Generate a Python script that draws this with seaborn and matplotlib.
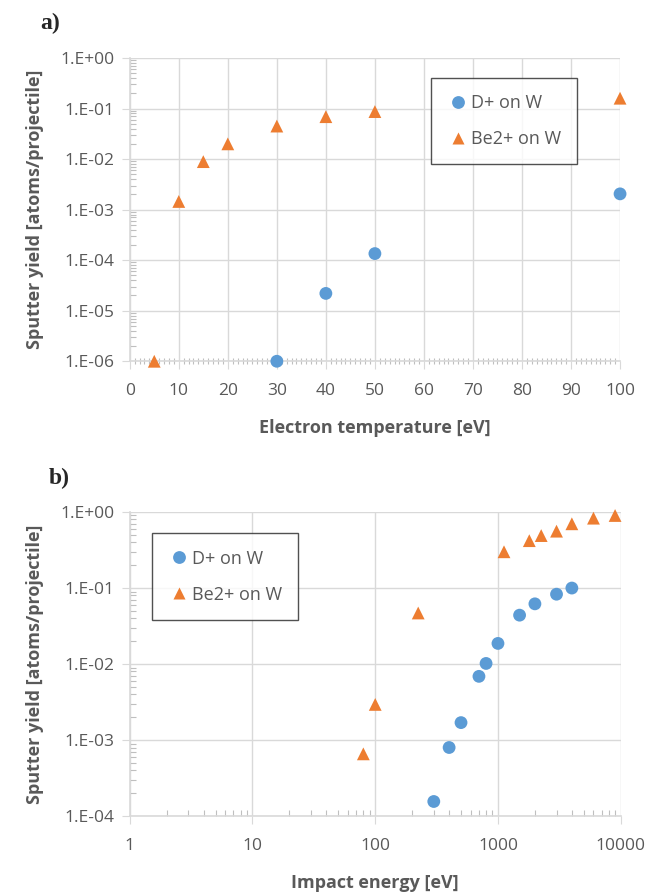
import numpy as np
import pandas as pd
import matplotlib
matplotlib.use("Agg")
import matplotlib.pyplot as plt
from matplotlib.ticker import FuncFormatter, LogLocator, MultipleLocator
import seaborn as sb

# Colours (Excel-like)
blue = '#5B9BD5'
orange = '#ED7D31'
grey_text = '#595959'
grid_colour = '#D9D9D9'
minor_colour = '#BFBFBF'

series = ['D+ on W', 'Be2+ on W']

# Panel a) yield vs electron temperature
te_d = [30, 40, 50, 100]
y_te_d = [1.0e-6, 2.2e-5, 1.35e-4, 2.05e-3]
te_be = [5, 10, 15, 20, 30, 40, 50, 100]
y_te_be = [1.0e-6, 1.45e-3, 8.9e-3, 2.0e-2, 4.5e-2, 6.9e-2, 8.7e-2, 1.6e-1]

# Panel b) yield vs impact energy
e_d = [300, 400, 500, 700, 800, 1000, 1500, 2000, 3000, 4000]
y_e_d = [1.56e-4, 8.0e-4, 1.7e-3, 6.9e-3, 1.02e-2, 1.87e-2, 4.4e-2, 6.2e-2, 8.3e-2, 1.0e-1]
e_be = [80, 100, 224, 1120, 1800, 2250, 3000, 4000, 6000, 9000]
y_e_be = [6.6e-4, 2.95e-3, 4.7e-2, 0.30, 0.42, 0.49, 0.56, 0.70, 0.83, 0.90]


def make_df(x1, y1, x2, y2):
    a = pd.DataFrame({'x': x1, 'y': y1, 'series': series[0]})
    b = pd.DataFrame({'x': x2, 'y': y2, 'series': series[1]})
    return pd.concat([a, b], ignore_index=True)


df_a = make_df(te_d, y_te_d, te_be, y_te_be)
df_b = make_df(e_d, y_e_d, e_be, y_e_be)

sb.set_style('white')
plt.rcParams['font.family'] = ['Open Sans', 'DejaVu Sans']

fig = plt.figure(figsize=(6.52, 8.92), dpi=100)
ax1 = fig.add_axes([0.199, 0.595, 0.752, 0.340])
ax2 = fig.add_axes([0.199, 0.085, 0.753, 0.341])

sci = FuncFormatter(lambda v, pos: '1.E%+03d' % int(round(np.log10(v))))


def style_axis(ax, xlabel, xminor_dir):
    ax.set_yscale('log')
    ax.yaxis.set_major_formatter(sci)
    ax.yaxis.set_major_locator(LogLocator(base=10, numticks=20))
    ax.yaxis.set_minor_locator(LogLocator(base=10, subs=np.arange(2, 10), numticks=20))
    ax.yaxis.set_minor_formatter(FuncFormatter(lambda v, pos: ''))
    ax.grid(True, which='major', color=grid_colour, linewidth=1)
    ax.set_axisbelow(True)
    for s in ['top', 'right']:
        ax.spines[s].set_visible(False)
    for s in ['left', 'bottom']:
        ax.spines[s].set_color(grid_colour)
        ax.spines[s].set_linewidth(1.2)
    ax.tick_params(which='major', left=True, bottom=True, length=6, color=grid_colour,
                   labelsize=12.5, labelcolor=grey_text, direction='out')
    ax.tick_params(axis='y', which='major', pad=5)
    ax.tick_params(axis='x', which='major', pad=10)
    ax.tick_params(axis='y', which='minor', left=True, length=4, color=minor_colour,
                   width=0.8, direction='in')
    ax.tick_params(axis='x', which='minor', bottom=True, length=4, color=minor_colour,
                   width=0.8, direction=xminor_dir)
    ax.set_xlabel(xlabel, fontsize=13, fontweight='bold', color=grey_text, labelpad=14)
    ax.set_ylabel('Sputter yield [atoms/projectile]', fontsize=13,
                  fontweight='bold', color=grey_text, labelpad=12)
    leg = ax.legend(frameon=True, fontsize=13, labelcolor=grey_text, fancybox=False,
                    borderpad=0.9, labelspacing=1.0, handletextpad=0.1,
                    handlelength=1.2, edgecolor='#262626', borderaxespad=0)
    leg.get_frame().set_linewidth(1.0)
    for t in leg.get_texts():
        t.set_color(grey_text)
    return leg


markers = {series[0]: 'o', series[1]: '^'}
palette = {series[0]: blue, series[1]: orange}

sb.scatterplot(data=df_a, x='x', y='y', hue='series', style='series',
               markers=markers, palette=palette, s=85, edgecolor='none',
               ax=ax1, clip_on=False, zorder=3)
ax1.set_xlim(0, 100)
ax1.set_ylim(1e-6, 1)
ax1.xaxis.set_major_locator(MultipleLocator(10))
ax1.xaxis.set_minor_locator(MultipleLocator(1))
leg1 = style_axis(ax1, 'Electron temperature [eV]', 'inout')
leg1.set_bbox_to_anchor((0.615, 0.935), transform=ax1.transAxes)
leg1._loc = 2

sb.scatterplot(data=df_b, x='x', y='y', hue='series', style='series',
               markers=markers, palette=palette, s=85, edgecolor='none',
               ax=ax2, clip_on=False, zorder=3)
ax2.set_xscale('log')
ax2.set_xlim(1, 10000)
ax2.set_ylim(1e-4, 1)
ax2.xaxis.set_major_locator(LogLocator(base=10, numticks=10))
ax2.xaxis.set_major_formatter(FuncFormatter(lambda v, pos: '%d' % v))
ax2.xaxis.set_minor_locator(LogLocator(base=10, subs=np.arange(2, 10), numticks=10))
ax2.xaxis.set_minor_formatter(FuncFormatter(lambda v, pos: ''))
leg2 = style_axis(ax2, 'Impact energy [eV]', 'in')
leg2.set_bbox_to_anchor((0.045, 0.93), transform=ax2.transAxes)
leg2._loc = 2

fig.text(0.061, 0.974, 'a)', fontsize=17, fontweight='bold',
         family=['Liberation Serif', 'DejaVu Serif'], ha='left', va='center')
fig.text(0.075, 0.464, 'b)', fontsize=17, fontweight='bold',
         family=['Liberation Serif', 'DejaVu Serif'], ha='left', va='center')

plt.savefig('out.png', dpi=100)
